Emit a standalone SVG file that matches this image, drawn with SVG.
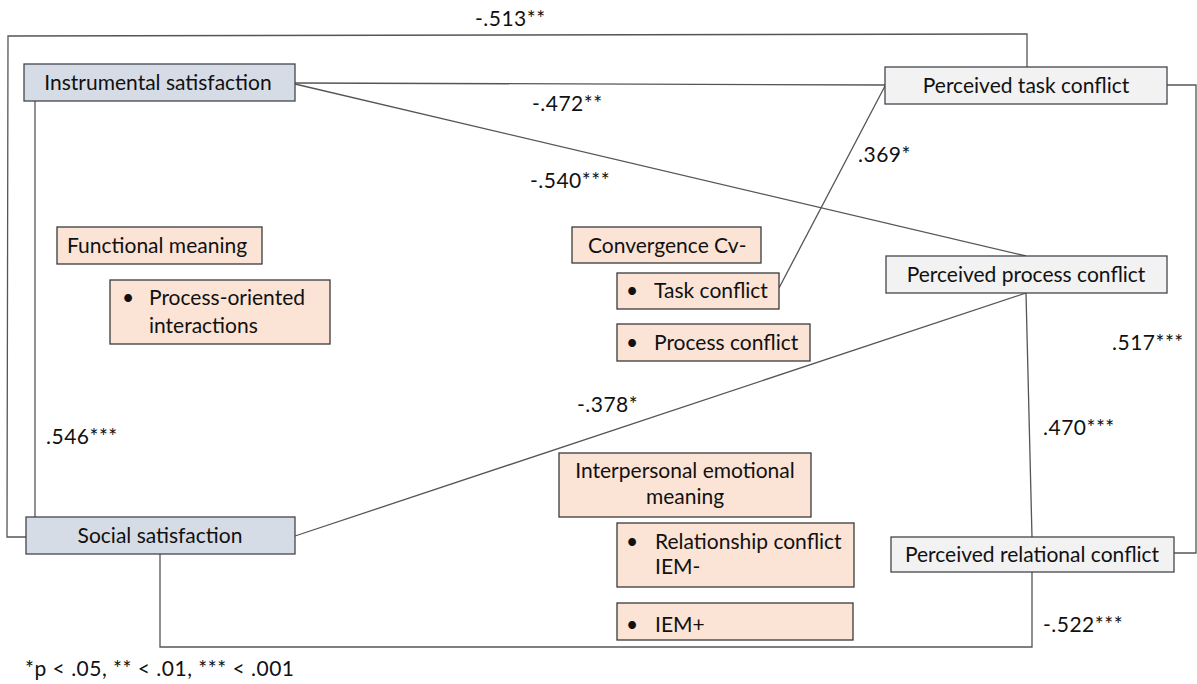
<svg xmlns="http://www.w3.org/2000/svg" width="1197" height="684" viewBox="0 0 1197 684">
<style>
text{font-family:Lato,"Liberation Sans",sans-serif;font-size:21px;fill:#111}
.lbl{font-size:21px;letter-spacing:0.5px}
.blue{fill:#d6dce5;stroke:#44464d;stroke-width:1.3}
.gray{fill:#f2f2f2;stroke:#44464d;stroke-width:1.3}
.peach{fill:#fbe4d5;stroke:#3a3a3a;stroke-width:1.3}
.c{fill:none;stroke:#555;stroke-width:1.3}
.m{text-anchor:middle}
</style>
<rect width="1197" height="684" fill="#fff"/>
<g id="connectors">
<polyline class="c" points="26,537 7,537 8,36 1027,34 1027,67"/>
<line class="c" x1="35" y1="101" x2="35" y2="517"/>
<line class="c" x1="295" y1="83" x2="885" y2="85"/>
<line class="c" x1="295" y1="84" x2="1026" y2="256"/>
<line class="c" x1="885" y1="86" x2="779" y2="288"/>
<line class="c" x1="1026" y1="293" x2="295" y2="536"/>
<line class="c" x1="1026" y1="293" x2="1032" y2="537"/>
<polyline class="c" points="1032,572 1032,647 160,647 160,554"/>
<polyline class="c" points="1167,85 1196,85 1196,553 1174,553"/>
</g>
<g id="labels">
<text class="lbl" x="475" y="26">-.513**</text>
<text class="lbl" x="532" y="111">-.472**</text>
<text class="lbl" x="858" y="162">.369*</text>
<text class="lbl" x="530" y="188">-.540***</text>
<text class="lbl" x="1112" y="350">.517***</text>
<text class="lbl" x="577" y="412">-.378*</text>
<text class="lbl" x="1043" y="435">.470***</text>
<text class="lbl" x="46" y="444">.546***</text>
<text class="lbl" x="1043" y="632">-.522***</text>
<text class="lbl" x="25" y="676">*p &lt; .05, ** &lt; .01, *** &lt; .001</text>
</g>
<g id="instrumental"><rect class="blue" x="24" y="64" width="271" height="37"/><text class="m" x="158" y="90">Instrumental satisfaction</text></g>
<g id="social"><rect class="blue" x="26" y="517" width="269" height="37"/><text class="m" x="160" y="543">Social satisfaction</text></g>
<g id="task"><rect class="gray" x="885" y="67" width="282" height="37"/><text class="m" x="1026" y="93">Perceived task conflict</text></g>
<g id="process"><rect class="gray" x="886" y="256" width="281" height="37"/><text class="m" x="1026" y="282">Perceived process conflict</text></g>
<g id="relational"><rect class="gray" x="891" y="537" width="283" height="35"/><text class="m" x="1032" y="562">Perceived relational conflict</text></g>
<g id="functional"><rect class="peach" x="57" y="227" width="205" height="37"/><text x="67" y="253">Functional meaning</text></g>
<g id="process-oriented"><rect class="peach" x="110" y="280" width="220" height="64"/><text x="122" y="305">•</text><text x="149" y="305">Process-oriented</text><text x="149" y="333">interactions</text></g>
<g id="convergence"><rect class="peach" x="572" y="227" width="189" height="36"/><text x="588" y="253">Convergence Cv-</text></g>
<g id="task-conflict"><rect class="peach" x="617" y="273" width="162" height="36"/><text x="626" y="298">•</text><text x="654" y="298">Task conflict</text></g>
<g id="process-conflict"><rect class="peach" x="617" y="324" width="193" height="37"/><text x="626" y="350">•</text><text x="654" y="350">Process conflict</text></g>
<g id="iem"><rect class="peach" x="559" y="453" width="252" height="64"/><text class="m" x="685" y="478">Interpersonal emotional</text><text class="m" x="685" y="504">meaning</text></g>
<g id="relationship"><rect class="peach" x="617" y="523" width="237" height="64"/><text x="626" y="549">•</text><text x="655" y="549">Relationship conflict</text><text x="655" y="574">IEM-</text></g>
<g id="iem-plus"><rect class="peach" x="617" y="603" width="236" height="37"/><text x="626" y="632">•</text><text x="655" y="632">IEM+</text></g>
</svg>
